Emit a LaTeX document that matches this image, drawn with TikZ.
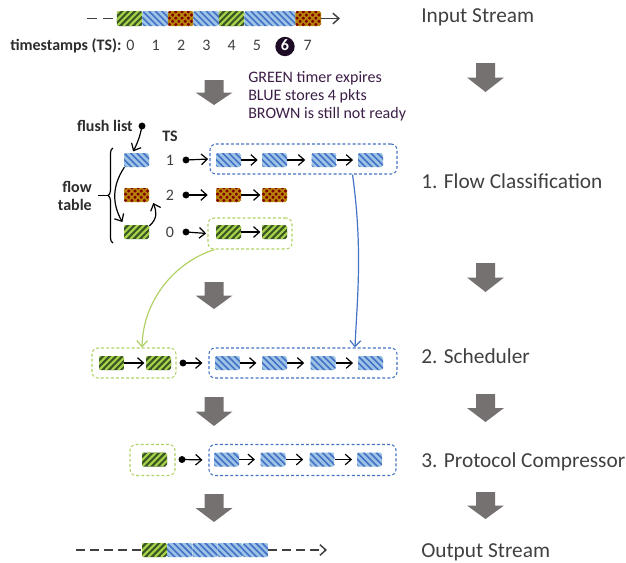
\documentclass[tikz,border=0pt]{standalone}
\usepackage{fontspec}
\setmainfont{Carlito}
\usetikzlibrary{arrows.meta,decorations.pathreplacing}

\definecolor{txt}{RGB}{64,64,64}
\definecolor{lbl}{RGB}{45,45,45}
\definecolor{evt}{RGB}{60,30,70}
\definecolor{bbg}{RGB}{157,195,230}
\definecolor{bst}{RGB}{68,114,196}
\definecolor{gbg}{RGB}{56,87,35}
\definecolor{gst}{RGB}{169,209,73}
\definecolor{rdark}{RGB}{128,0,0}
\definecolor{rlight}{RGB}{184,134,11}
\definecolor{gline}{RGB}{176,210,100}
\definecolor{bline}{RGB}{68,114,196}
\definecolor{garrow}{RGB}{118,113,113}
\definecolor{six}{RGB}{30,12,38}

\newcommand\grayarrow[3]{% cx, ytop, ytip (pixels, positive down)
  \fill[garrow] ({#1-9.5},{-#2}) -- ({#1+9.5},{-#2}) -- ({#1+9.5},{-(#2+#3)/2}) -- ({#1+18.5},{-(#2+#3)/2})
    -- ({#1},{-#3}) -- ({#1-18.5},{-(#2+#3)/2}) -- ({#1-9.5},{-(#2+#3)/2}) -- cycle;}

\tikzset{
  pkt/.style={inner sep=0pt, minimum width=18.75pt, minimum height=10.5pt, rounded corners=1.5pt},
  gpkt/.style={pkt, path picture={
    \fill[gbg] (path picture bounding box.south west) rectangle (path picture bounding box.north east);
    \foreach \k in {-3,...,4}{\draw[gst, line width=1.6pt] ([xshift=\k*4.8pt]path picture bounding box.south west) -- ++(14pt,14pt);}}},
  bpkt/.style={pkt, path picture={
    \fill[bbg] (path picture bounding box.south west) rectangle (path picture bounding box.north east);
    \foreach \k in {-3,...,4}{\draw[bst, line width=1.2pt] ([xshift=\k*4.8pt]path picture bounding box.north west) -- ++(14pt,-14pt);}}},
  rpkt/.style={pkt, path picture={
    \fill[rlight] (path picture bounding box.south west) rectangle (path picture bounding box.north east);
    \foreach \i in {0,...,8}{\foreach \j in {0,...,4}{%
      \pgfmathtruncatemacro\chk{mod(\i+\j,2)}%
      \ifnum\chk=0 \fill[rdark] ([shift={(\i*2.35pt,\j*2.35pt)}]path picture bounding box.south west) rectangle ++(2.35pt,2.35pt);\fi}}}},
  bbox/.style={draw=bline, dash pattern=on 2.2pt off 1.6pt, line width=0.8pt, rounded corners=4.5pt, inner sep=0pt},
  gbox/.style={draw=gline, dash pattern=on 2.2pt off 1.6pt, line width=0.8pt, rounded corners=4.5pt, inner sep=0pt},
  barb/.style={-{Straight Barb[length=4.5pt,width=8pt]}, line width=0.9pt, black},
  streamdash/.style={draw=txt, line width=1.1pt, dash pattern=on 6.5pt off 4pt},
  big/.style={font=\fontsize{16}{19}\selectfont, text=txt, anchor=base west, inner sep=0pt},
  num/.style={font=\fontsize{12}{14}\selectfont, text=txt, anchor=base, inner sep=0pt},
  lblb/.style={font=\fontsize{12}{14}\selectfont\bfseries, text=lbl, inner sep=0pt},
  evtxt/.style={font=\fontsize{12}{14}\selectfont, text=evt, anchor=base west, inner sep=0pt},
}

\begin{document}
\begin{tikzpicture}[x=0.75pt,y=0.75pt]
\useasboundingbox (0,0) rectangle (626,-562);

% ---------- input stream ----------
\foreach \t [count=\c from 0] in {gpkt,bpkt,rpkt,bpkt,gpkt,bpkt,bpkt,rpkt}
  \node[\t, minimum width=19.2pt, minimum height=11.25pt] (in\c) at ({129.75+25.5*\c},-18.5) {};
\coordinate (ins) at (87,-18.5);
\coordinate (ine) at (340,-18.5);
\draw[streamdash, dash pattern=on 7.5pt off 4.5pt] (ins) -- (in0.west);
\draw[draw=txt, line width=1.1pt, -{Straight Barb[length=4.5pt,width=8pt]}] (in7.east) -- (ine);
\node[big] (tin) at (421,-22) {Input Stream};

% ---------- timestamps ----------
\node[lblb, anchor=base west] (tslbl) at (10,-50) {timestamps (TS):};
\foreach \n in {0,1,2,3,4,5,7}
  \node[num] (ts\n) at ({130.5+25.3*\n},-50) {\n};
\node[circle, fill=six, minimum width=14.5pt, inner sep=0pt] (ts6c) at (285,-46.5) {};
\node[num, text=white, font=\fontsize{12}{14}\selectfont\bfseries] (ts6) at (285,-50.5) {6};

% ---------- event text ----------
\node[evtxt] (ev1) at (248,-82) {GREEN timer expires};
\node[evtxt] (ev2) at (248,-100) {BLUE stores 4 pkts};
\node[evtxt] (ev3) at (248,-118) {BROWN is still not ready};

% ---------- gray arrows ----------
\grayarrow{214}{80}{105}
\grayarrow{214}{282}{309}
\grayarrow{214}{397}{426}
\grayarrow{214}{494}{522}
\grayarrow{485.5}{63}{92}
\grayarrow{485.5}{263}{292}
\grayarrow{485.5}{394}{422}
\grayarrow{485.5}{492}{519}

% ---------- flow table ----------
\node[bpkt] (ft1) at (136.5,-160) {};
\node[rpkt] (ft2) at (136.5,-195) {};
\node[gpkt] (ft3) at (136.5,-232) {};
\draw[decorate, decoration={brace, amplitude=3.8pt}, line width=0.9pt] (113,-243) -- (113,-148);
\coordinate (bt) at (107.5,-195.5);
\draw[line width=0.9pt] (bt) -- ++(-10,0);
\node[lblb, anchor=base east] (flw) at (92,-192) {flow};
\node[lblb, anchor=base east] (tbl) at (92,-210) {table};

\node[lblb, anchor=base east] (fl) at (133,-131) {flush list};
\coordinate (fld) at (142,-126);
\fill (fld) circle (2.6pt);
\draw[barb] (fld) to[bend left=8] ([xshift=-2.5pt,yshift=1pt]ft1.north);
\draw[barb] ([xshift=0.5pt]ft1.south west) to[bend right=32] ([xshift=-1pt,yshift=2pt]ft3.north west);
\draw[barb] ([yshift=-1pt]ft3.north east) .. controls +(9,8) and +(3,-8) .. ([xshift=3pt,yshift=-0.5pt]ft2.south east);

\node[lblb, anchor=base] (tsh) at (170,-141) {TS};
\node[num] (r1n) at (170,-165) {1};
\node[num] (r2n) at (170,-200) {2};
\node[num] (r3n) at (170,-237) {0};

% row 1
\node[bbox, minimum width=140.25pt, minimum height=22.5pt] (q1) at (303.5,-159) {};
\node[bpkt] (p11) at (228.5,-160) {};
\node[bpkt] (p12) at (274.5,-160) {};
\node[bpkt] (p13) at (324,-160) {};
\node[bpkt] (p14) at (370.5,-160) {};
\coordinate (d1) at (186,-160);
\fill (d1) circle (2.6pt);
\draw[barb, shorten >=1pt] (d1) -- (q1.west);
\draw[barb, shorten >=3pt] (p11.east) -- (p12.west);
\draw[barb, shorten >=4.5pt] (p12.east) -- (p13.west);
\draw[barb, shorten >=3.5pt] (p13.east) -- (p14.west);

% row 2
\node[rpkt] (p21) at (228.5,-195) {};
\node[rpkt] (p22) at (274.5,-195) {};
\coordinate (d2) at (186,-195);
\fill (d2) circle (2.6pt);
\draw[barb, shorten >=6pt] (d2) -- (p21.west);
\draw[barb, shorten >=1pt] (p21.east) -- (p22.west);

% row 3
\node[gbox, minimum width=63pt, minimum height=23.25pt] (q3) at (250,-233.5) {};
\node[gpkt] (p31) at (228.5,-232) {};
\node[gpkt] (p32) at (274.5,-232) {};
\coordinate (d3) at (186,-232);
\fill (d3) circle (2.6pt);
\draw[barb, shorten >=1pt] (d3) -- (q3.west);
\draw[barb, shorten >=1pt] (p31.east) -- (p32.west);

\node[big] (tfc) at (421,-188) {1. Flow Classification};

% ---------- scheduler ----------
\node[gbox, minimum width=63pt, minimum height=22.5pt] (sg) at (134,-363) {};
\node[gpkt] (s1) at (111.5,-363) {};
\node[gpkt] (s2) at (158.5,-363) {};
\draw[barb, shorten >=1pt] (s1.east) -- (s2.west);
\node[bbox, minimum width=141pt, minimum height=22.5pt] (sb) at (303,-363) {};
\node[bpkt] (s3) at (227.5,-363) {};
\node[bpkt] (s4) at (274.5,-363) {};
\node[bpkt] (s5) at (323,-363) {};
\node[bpkt] (s6) at (370.5,-363) {};
\coordinate (d4) at (183,-363);
\fill (d4) circle (2.6pt);
\draw[barb, shorten >=4.5pt] (d4) -- (sb.west);
\draw[barb, shorten >=4pt] (s3.east) -- (s4.west);
\draw[barb, shorten >=4.5pt] (s4.east) -- (s5.west);
\draw[barb, shorten >=3.5pt] (s5.east) -- (s6.west);
\node[big] (tsc) at (421,-363) {2. Scheduler};

% connectors from flow classification to scheduler
\draw[gline, line width=0.9pt, -{Straight Barb[length=4.5pt,width=8pt]}]
  ([xshift=5.25pt]q3.south west) .. controls (175,-262) and (143,-300) .. ([xshift=6pt]sg.north);
\draw[bline, line width=0.9pt, -{Straight Barb[length=4.5pt,width=8pt]}]
  ([xshift=-33.75pt]q1.south east) .. controls (363,-250) and (357,-300) .. ([xshift=39pt]sb.north);

% ---------- protocol compressor ----------
\node[gbox, minimum width=33.75pt, minimum height=23.25pt] (cg) at (152.5,-460) {};
\node[gpkt] (c1) at (154.5,-459.5) {};
\node[bbox, minimum width=140.25pt, minimum height=23.25pt] (cb) at (302.5,-460) {};
\node[bpkt] (c2) at (226.5,-459.5) {};
\node[bpkt] (c3) at (273,-459.5) {};
\node[bpkt] (c4) at (322,-459.5) {};
\node[bpkt] (c5) at (369.5,-459.5) {};
\coordinate (d5) at (182,-459.5);
\fill (d5) circle (2.6pt);
\draw[barb, shorten >=4.5pt] (d5) -- (cb.west);
\draw[barb, shorten >=4pt] (c2.east) -- (c3.west);
\draw[barb, shorten >=4.5pt] (c3.east) -- (c4.west);
\draw[barb, shorten >=3.5pt] (c4.east) -- (c5.west);
\node[big] (tpc) at (421,-467) {3. Protocol Compressor};

% ---------- output stream ----------
\node[gpkt] (o0) at (154.5,-550) {};
\foreach \c in {1,2,3,4}
  \node[bpkt, minimum width=19pt] (o\c) at ({154.5+25.25*\c},-550) {};
\coordinate (os) at (76,-550);
\coordinate (oe) at (327,-550);
\draw[streamdash] (os) -- (o0.west);
\draw[streamdash, -{Straight Barb[length=4.5pt,width=8pt]}] (o4.east) -- (oe);
\node[big] (tos) at (421,-557) {Output Stream};
\end{tikzpicture}
\end{document}
